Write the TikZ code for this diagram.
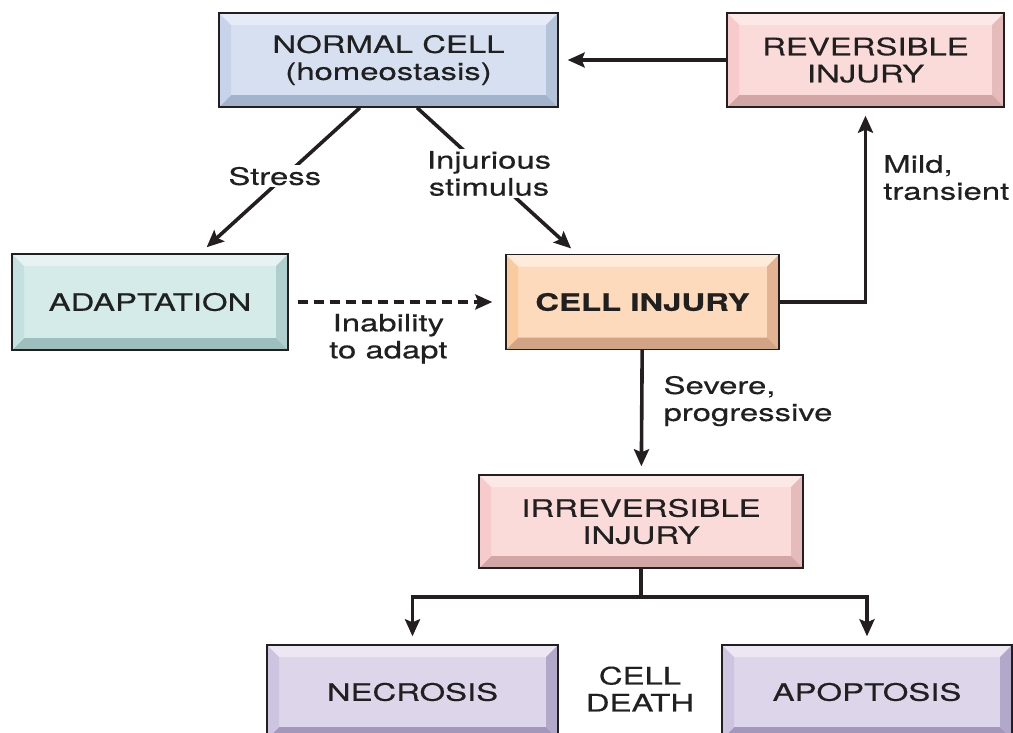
\documentclass[tikz,border=0pt]{standalone}
\usepackage{fontspec}
\setmainfont[FakeStretch=1.37,FakeBold=0.4]{TeX Gyre Heros}
\usepackage{tikz}
\usetikzlibrary{arrows.meta,positioning}
\definecolor{bluefill}{RGB}{214,224,240}
\definecolor{bluetop}{RGB}{229,236,247}
\definecolor{blueleft}{RGB}{198,211,234}
\definecolor{blueright}{RGB}{180,194,218}
\definecolor{bluebot}{RGB}{163,179,206}
\definecolor{tealfill}{RGB}{212,235,234}
\definecolor{tealtop}{RGB}{230,243,242}
\definecolor{tealleft}{RGB}{196,224,223}
\definecolor{tealright}{RGB}{174,207,205}
\definecolor{tealbot}{RGB}{157,192,190}
\definecolor{peachfill}{RGB}{253,218,187}
\definecolor{peachtop}{RGB}{254,235,218}
\definecolor{peachleft}{RGB}{251,203,160}
\definecolor{peachright}{RGB}{227,179,147}
\definecolor{peachbot}{RGB}{211,163,133}
\definecolor{pinkfill}{RGB}{250,219,218}
\definecolor{pinktop}{RGB}{253,232,232}
\definecolor{pinkleft}{RGB}{247,203,203}
\definecolor{pinkright}{RGB}{229,187,187}
\definecolor{pinkbot}{RGB}{211,166,166}
\definecolor{lilacfill}{RGB}{221,214,234}
\definecolor{lilactop}{RGB}{236,231,243}
\definecolor{lilacleft}{RGB}{205,196,225}
\definecolor{lilacright}{RGB}{178,168,202}
\definecolor{lilacbot}{RGB}{163,152,188}
\definecolor{txtgray}{RGB}{32,32,32}
\definecolor{linegray}{RGB}{35,31,32}

\begin{document}
\begin{tikzpicture}[x=1pt,y=-1pt,
  box/.style={draw=linegray,line width=1.4pt,fill=#1fill,inner sep=0pt,align=center,
    text=txtgray,font=\fontsize{24}{27}\selectfont,
    path picture={
      \coordinate (pa) at (path picture bounding box.north west);
      \coordinate (pb) at (path picture bounding box.north east);
      \coordinate (pc) at (path picture bounding box.south east);
      \coordinate (pd) at (path picture bounding box.south west);
      \fill[#1top] (pa) -- (pb) -- ([shift={(-12pt,-12pt)}]pb) -- ([shift={(12pt,-12pt)}]pa) -- cycle;
      \fill[#1right] (pb) -- (pc) -- ([shift={(-12pt,12pt)}]pc) -- ([shift={(-12pt,-12pt)}]pb) -- cycle;
      \fill[#1bot] (pc) -- (pd) -- ([shift={(12pt,12pt)}]pd) -- ([shift={(-12pt,12pt)}]pc) -- cycle;
      \fill[#1left] (pd) -- (pa) -- ([shift={(12pt,-12pt)}]pa) -- ([shift={(12pt,12pt)}]pd) -- cycle;
    }},
  flow/.style={draw=linegray,line width=3.6pt,-{Stealth[length=17pt,width=15pt,inset=3pt]},shorten >=8pt},
  lbl/.style={text=txtgray,font=\fontsize{24}{27}\selectfont,inner sep=2pt}]
\useasboundingbox (0,0) rectangle (1013,732);

% boxes
\node[box=blue,minimum width=339pt,minimum height=94pt] (normal) at (388.5,60) {NORMAL CELL\\(homeostasis)};
\node[box=pink,minimum width=277pt,minimum height=94pt] (rev) at (865.5,60) {REVERSIBLE\\INJURY};
\node[box=teal,minimum width=276pt,minimum height=96pt] (adapt) at (150,302) {ADAPTATION};
\node[box=peach,minimum width=273pt,minimum height=95pt] (injury) at (642.5,302) {\bfseries CELL INJURY};
\node[box=pink,minimum width=324pt,minimum height=93pt] (irrev) at (641,521.5) {IRREVERSIBLE\\INJURY};
\node[box=lilac,minimum width=291pt,minimum height=94pt] (necro) at (412.5,692) {NECROSIS};
\node[box=lilac,minimum width=290pt,minimum height=94pt] (apop) at (867,692) {APOPTOSIS};
\node[lbl,align=center] (death) at (640,689) {CELL\\DEATH};

% arrows
\draw[flow,shorten >=9pt] (rev.west) -- (normal.east);
\draw[flow,shorten >=9pt] ([xshift=-28.5pt]normal.south) -- ([xshift=50pt]adapt.north)
  node[lbl,fill=white,pos=0.47,xshift=-10pt] (stress) {Stress};
\draw[flow] ([xshift=28.5pt]normal.south) -- ([xshift=-65.5pt]injury.north)
  node[lbl,fill=white,align=center,pos=0.45] (stim) {Injurious\\stimulus};
\draw[flow,dashed,dash pattern=on 10pt off 6pt,shorten <=9pt,shorten >=13pt] (adapt) -- (injury)
  node[lbl,align=center,pos=0.46,below=8pt] (unable) {Inability\\to adapt};
\draw[flow] (injury.east) -| (rev.south)
  node[lbl,align=left,pos=0.82,right=14pt] (mild) {Mild,\\transient};
\draw[flow] (injury) -- (irrev)
  node[lbl,align=left,pos=0.41,right=18pt] (severe) {Severe,\\progressive};
\coordinate (fork) at (641,597);
\draw[flow,-,shorten >=0pt] (irrev) -- (fork);
\draw[flow] (fork) -| (necro.north);
\draw[flow] (fork) -| (apop.north);
\end{tikzpicture}
\end{document}
